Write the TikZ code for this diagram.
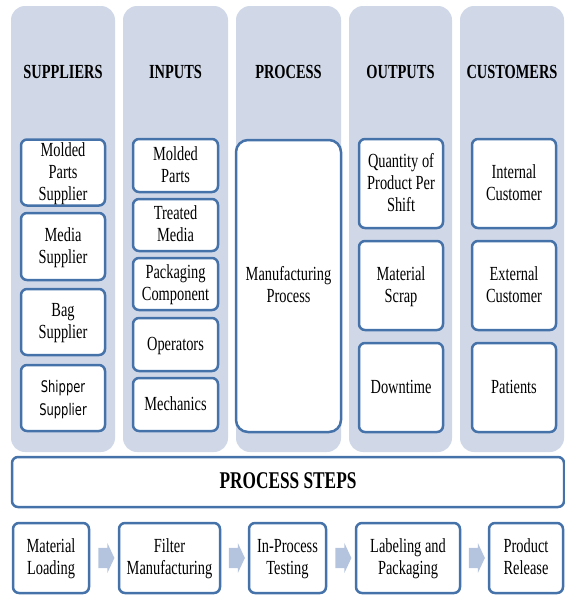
\documentclass[tikz,border=0pt]{standalone}
\usepackage{fontspec}
\usepackage{graphicx}
\setmainfont{Liberation Serif}
\newfontfamily\sansx{DejaVu Sans}
\usetikzlibrary{shapes.arrows,calc}
\definecolor{boxblue}{HTML}{4672AA}
\definecolor{colfill}{HTML}{D0D8E8}
\definecolor{arrowc}{HTML}{B4C4DE}
\newcommand\sq[1]{\raisebox{-1.5pt}[\height][\depth]{\scalebox{0.72}[1]{\begin{tabular}{@{}c@{}}#1\end{tabular}}}}
\begin{document}
\begin{tikzpicture}[x=1pt,y=-1pt,
  column/.style={fill=colfill, draw=none, rounded corners=14pt},
  item/.style={draw=boxblue, line width=2.5pt, fill=white, rounded corners=6pt,
     align=center, inner sep=0pt, font=\rmfamily\fontsize{20}{22}\selectfont},
  header/.style={font=\rmfamily\fontsize{20}{22}\selectfont\bfseries, inner sep=0pt},
  flowarrow/.style={single arrow, fill=arrowc, draw=none, inner xsep=0pt, inner ysep=10pt,
     minimum height=16pt, single arrow head extend=5pt, single arrow tip angle=130}]
\useasboundingbox (0,0) rectangle (565,595);
% columns
\path[column] (11,6) rectangle (115,452);
\path[column] (123,6) rectangle (228,452);
\path[column] (236,6) rectangle (341,452);
\path[column] (349,6) rectangle (452,452);
\path[column] (460,6) rectangle (564,452);
% headers
\node[header] (hs) at (63,72.5) {\sq{SUPPLIERS}};
\node[header] (hi) at (175.5,72.5) {\sq{INPUTS}};
\node[header] (hp) at (288.5,72.5) {\sq{PROCESS}};
\node[header] (ho) at (400.5,72.5) {\sq{OUTPUTS}};
\node[header] (hc) at (512,72.5) {\sq{CUSTOMERS}};
% suppliers
\node[item, minimum width=84pt, minimum height=65pt] (s1) at (63,172.5) {\sq{Molded\\Parts\\Supplier}};
\node[item, minimum width=84pt, minimum height=67pt] (s2) at (63,246.5) {\sq{Media\\Supplier}};
\node[item, minimum width=84pt, minimum height=66pt] (s3) at (63,322) {\sq{Bag\\Supplier}};
\node[item, minimum width=84pt, minimum height=66pt, font=\sansx\fontsize{16}{23}\selectfont] (s4) at (63,398) {\sq{Shipper\\Supplier}};
% inputs
\node[item, minimum width=85pt, minimum height=53pt] (i1) at (175.5,165.5) {\sq{Molded\\Parts}};
\node[item, minimum width=85pt, minimum height=52pt] (i2) at (175.5,225) {\sq{Treated\\Media}};
\node[item, minimum width=85pt, minimum height=52pt] (i3) at (175.5,284) {\sq{Packaging\\Component}};
\node[item, minimum width=85pt, minimum height=53pt] (i4) at (175.5,344.5) {\sq{Operators}};
\node[item, minimum width=85pt, minimum height=53pt] (i5) at (175.5,404.5) {\sq{Mechanics}};
% process
\node[item, rounded corners=12pt, minimum width=105pt, minimum height=292pt] (p1) at (288.5,286) {\sq{Manufacturing\\Process}};
% outputs
\node[item, minimum width=84pt, minimum height=89pt] (o1) at (401,183.5) {\sq{Quantity of\\Product Per\\Shift}};
\node[item, minimum width=84pt, minimum height=89pt] (o2) at (401,285.5) {\sq{Material\\Scrap}};
\node[item, minimum width=84pt, minimum height=89pt] (o3) at (401,387.5) {\sq{Downtime}};
% customers
\node[item, minimum width=84pt, minimum height=89pt] (c1) at (514,183.5) {\sq{Internal\\Customer}};
\node[item, minimum width=84pt, minimum height=89pt] (c2) at (514,285.5) {\sq{External\\Customer}};
\node[item, minimum width=84pt, minimum height=89pt] (c3) at (514,387.5) {\sq{Patients}};
% process steps
\node[item, minimum width=552pt, minimum height=50pt, font=\rmfamily\fontsize{24}{26}\selectfont\bfseries] (ps) at (288,482) {\sq{PROCESS STEPS}};
\node[item, minimum width=76pt, minimum height=70pt] (t1) at (51,558) {\sq{Material\\Loading}};
\node[item, minimum width=101pt, minimum height=70pt] (t2) at (169.5,558) {\sq{Filter\\Manufacturing}};
\node[item, minimum width=77pt, minimum height=70pt] (t3) at (287.5,558) {\sq{In-Process\\Testing}};
\node[item, minimum width=104pt, minimum height=70pt] (t4) at (408,558) {\sq{Labeling and\\Packaging}};
\node[item, minimum width=74pt, minimum height=70pt] (t5) at (526,558) {\sq{Product\\Release}};
\node[flowarrow] (a1) at ($(t1.east)!0.5!(t2.west)$) {};
\node[flowarrow] (a2) at ($(t2.east)!0.5!(t3.west)$) {};
\node[flowarrow] (a3) at ($(t3.east)!0.5!(t4.west)$) {};
\node[flowarrow] (a4) at ($(t4.east)!0.5!(t5.west)$) {};
\end{tikzpicture}
\end{document}
